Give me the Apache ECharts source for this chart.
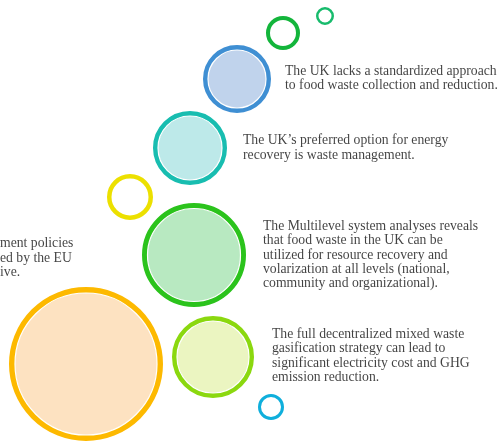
<!DOCTYPE html>
<html>
<head>
<meta charset="utf-8">
<script src="https://cdn.jsdelivr.net/npm/echarts@6/dist/echarts.min.js"></script>
<style>
  html, body { margin: 0; padding: 0; background: #fff; }
  #chart { width: 499px; height: 441px; }
</style>
</head>
<body>
<div id="chart"></div>
<script>
// circle centres and radii (diagram units = px)
const circleX = [325, 283, 237, 190, 130, 194, 86, 213, 271];
const circleY = [16, 33, 79, 148, 197, 255, 364, 357, 407];
const circleR = [9, 17, 34, 37, 23, 52, 77, 41, 13];
const ringColors = ['#17bb6c', '#13b53b', '#3f8fd3', '#18bdb0', '#ece000', '#2bc31c', '#fdb900', '#8bd80f', '#0fafdc'];
const fillColors = [null, null, '#c0d3ec', '#bde9e9', null, '#b8e9c1', '#fde2c1', '#ebf5c1', null];
const ringWidths = [2.5, 4, 5, 5, 4.5, 5.5, 6, 5, 3];

// text blocks
const textX = [285, 243, 263, 0, 272];
const textY = [78.5, 148, 255, 258, 356];
const texts = [
  'The UK lacks a standardized approach\nto food waste collection and reduction.',
  'The UK\u2019s preferred option for energy\nrecovery is waste management.',
  'The Multilevel system analyses reveals\nthat food waste in the UK can be\nutilized for resource recovery and\nvolarization at all levels (national,\ncommunity and organizational).',
  'ment policies\ned by the EU\nive.',
  'The full decentralized mixed waste\ngasification strategy can lead to\nsignificant electricity cost and GHG\nemission reduction.'
];

const chart = echarts.init(document.getElementById('chart'));

const ringData = circleX.map((x, i) => ({
  value: [x, circleY[i], circleR[i]],
  symbolSize: circleR[i] * 2 - ringWidths[i],
  itemStyle: {
    color: fillColors[i] ? ringColors[i] : 'rgba(0,0,0,0)',
    borderColor: ringColors[i],
    borderWidth: ringWidths[i],
    opacity: 1
  }
}));

const fillData = [];
circleX.forEach((x, i) => {
  if (!fillColors[i]) return;
  fillData.push({
    value: [x, circleY[i]],
    symbolSize: (circleR[i] - ringWidths[i]) * 2,
    itemStyle: { color: fillColors[i], borderColor: '#ffffff', borderWidth: 1.2, opacity: 1 }
  });
});

const textData = textX.map((x, i) => ({ value: [x, textY[i]], name: texts[i] }));

const option = {
  animation: false,
  backgroundColor: '#ffffff',
  grid: { left: 0, right: 0, top: 0, bottom: 0 },
  xAxis: { type: 'value', min: 0, max: 499, show: false },
  yAxis: { type: 'value', min: 0, max: 441, inverse: true, show: false },
  series: [
    {
      type: 'scatter',
      data: ringData,
      silent: true,
      z: 2
    },
    {
      type: 'scatter',
      data: fillData,
      silent: true,
      z: 3
    },
    {
      type: 'scatter',
      data: textData,
      symbolSize: 0,
      silent: true,
      z: 4,
      label: {
        show: true,
        position: 'right',
        distance: 0,
        formatter: (p) => p.name,
        color: '#111111',
        fontFamily: 'Liberation Serif',
        fontSize: 13.7,
        lineHeight: 14.4,
        align: 'left'
      }
    }
  ]
};

chart.setOption(option);
</script>
</body>
</html>
